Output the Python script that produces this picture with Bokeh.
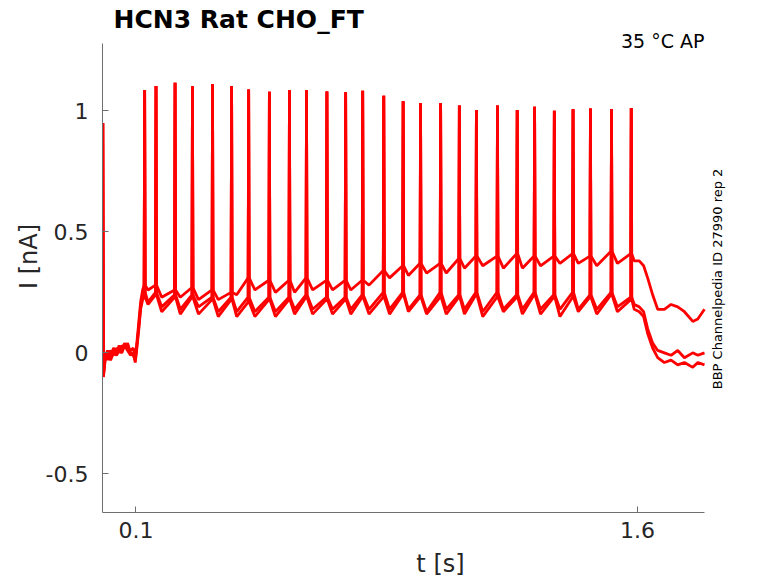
import numpy as np
from bokeh.plotting import figure
from bokeh.models import Range1d, FixedTicker, Label
from bokeh.embed import file_html
from bokeh.resources import INLINE

# ---------------- data ----------------
title_text = "HCN3  Rat  CHO_FT"
cond_text = "35 °C  AP"
side_text = "BBP Channelpedia ID 27990 rep 2"
x_label = "t [s]"
y_label = "I [nA]"

x_ticks = [0.1, 1.6]
x_tick_labels = ["0.1", "1.6"]
y_ticks = [-0.5, 0, 0.5, 1]
y_tick_labels = ["-0.5", "0", "0.5", "1"]

spike_t = [0.126, 0.160, 0.217, 0.269, 0.329, 0.386, 0.437, 0.499, 0.559,
           0.610, 0.671, 0.727, 0.778, 0.841, 0.899, 0.951, 1.011, 1.067,
           1.118, 1.181, 1.240, 1.292, 1.351, 1.407, 1.459, 1.522, 1.581]
spike_peak = [1.087, 1.103, 1.117, 1.102, 1.110, 1.103, 1.089, 1.079, 1.087,
              1.087, 1.080, 1.077, 1.083, 1.063, 1.040, 1.033, 1.033, 1.023,
              1.004, 1.023, 1.004, 1.017, 1.001, 1.007, 1.010, 1.008, 1.012]

pre_t = [0.0, 0.001, 0.003, 0.008, 0.015, 0.024, 0.033, 0.042, 0.050, 0.058,
         0.066, 0.075, 0.084, 0.092, 0.098, 0.102, 0.108, 0.114, 0.120]
pre_i1 = [0.0, 0.95, -0.10, -0.02, 0.01, -0.02, 0.02, 0.00, 0.03, 0.01,
          0.04, 0.02, 0.01, 0.02, -0.02, 0.03, 0.12, 0.21, 0.26]
pre_i2 = [0.0, 0.95, -0.08, 0.00, -0.03, 0.01, -0.01, 0.02, 0.00, 0.03,
          0.02, 0.04, 0.00, -0.01, -0.03, 0.02, 0.10, 0.19, 0.24]
pre_i3 = [0.0, 0.95, -0.09, -0.03, 0.00, -0.03, 0.00, -0.01, 0.01, 0.00,
          0.03, 0.01, -0.01, 0.00, -0.04, 0.01, 0.09, 0.18, 0.22]

cusp1 = [0.28, 0.28, 0.26, 0.27, 0.26, 0.25, 0.31, 0.30, 0.30, 0.31, 0.30,
         0.30, 0.30, 0.34, 0.36, 0.37, 0.37, 0.39, 0.40, 0.40, 0.41, 0.40,
         0.40, 0.41, 0.40, 0.42, 0.41]
trough1 = [0.26, 0.23, 0.23, 0.22, 0.22, 0.24, 0.26, 0.25, 0.25, 0.26, 0.26,
           0.26, 0.28, 0.31, 0.32, 0.33, 0.33, 0.35, 0.36, 0.35, 0.35, 0.36,
           0.37, 0.37, 0.36, 0.37]
cusp2 = [0.25, 0.25, 0.24, 0.24, 0.23, 0.23, 0.23, 0.23, 0.23, 0.24, 0.23,
         0.23, 0.24, 0.25, 0.25, 0.24, 0.25, 0.24, 0.25, 0.25, 0.24, 0.25,
         0.24, 0.25, 0.24, 0.25, 0.23]
trough2 = [0.21, 0.19, 0.18, 0.19, 0.17, 0.17, 0.17, 0.17, 0.18, 0.18, 0.18,
           0.18, 0.18, 0.18, 0.18, 0.17, 0.18, 0.18, 0.17, 0.18, 0.18, 0.18,
           0.18, 0.18, 0.18, 0.19]
cusp3 = [0.23, 0.24, 0.23, 0.23, 0.22, 0.22, 0.21, 0.22, 0.22, 0.23, 0.22,
         0.22, 0.23, 0.23, 0.24, 0.23, 0.23, 0.23, 0.24, 0.23, 0.23, 0.24,
         0.23, 0.23, 0.23, 0.24, 0.22]
trough3 = [0.20, 0.17, 0.16, 0.16, 0.15, 0.15, 0.15, 0.15, 0.16, 0.16, 0.16,
           0.16, 0.16, 0.16, 0.17, 0.16, 0.16, 0.16, 0.15, 0.17, 0.16, 0.16,
           0.15, 0.17, 0.16, 0.17]

post_t = [1.590, 1.605, 1.618, 1.630, 1.645, 1.660, 1.680, 1.700, 1.720,
          1.740, 1.765, 1.780, 1.800]
post_i1 = [0.38, 0.38, 0.36, 0.31, 0.24, 0.18, 0.18, 0.20, 0.19, 0.17, 0.13, 0.14, 0.18]
post_i2 = [0.20, 0.19, 0.17, 0.10, 0.04, 0.01, 0.00, -0.01, 0.01, -0.02, 0.00, -0.01, 0.00]
post_i3 = [0.18, 0.17, 0.15, 0.08, 0.02, -0.02, -0.04, -0.03, -0.05, -0.04, -0.06, -0.04, -0.05]

# visible extent of the axes (data units)
x_axis_span = (0.0, 1.80)
y_axis_span = (-0.660, 1.278)


def build_trace(pre_i, cusp, trough, post_i):
    xs = list(pre_t)
    ys = list(pre_i)
    n = len(spike_t)
    for k in range(n):
        tk = spike_t[k]
        xs += [tk - 0.0015, tk, tk + 0.0015]
        ys += [cusp[k], spike_peak[k], cusp[k]]
        if k < n - 1:
            xs.append(tk + 0.3 * (spike_t[k + 1] - tk))
            ys.append(trough[k])
    xs += post_t
    ys += post_i
    return xs, ys


traces = [build_trace(pre_i1, cusp1, trough1, post_i1),
          build_trace(pre_i2, cusp2, trough2, post_i2),
          build_trace(pre_i3, cusp3, trough3, post_i3)]

# ---------------- figure ----------------
# frame: x from px 102 to 778 (676 px), y from px 0 to 512 (512 px)
px_per_x = 334.44
px_per_y = 241.9
x_end = x_axis_span[0] + 676 / px_per_x
y_end = y_axis_span[0] + 512 / px_per_y

p = figure(width=778, height=583, output_backend="svg", toolbar_location=None,
           x_range=Range1d(x_axis_span[0], x_end),
           y_range=Range1d(y_axis_span[0], y_end),
           min_border_left=102, min_border_right=0, min_border_top=0,
           min_border_bottom=71)
p.background_fill_color = "white"
p.border_fill_color = "white"
p.outline_line_color = None
p.xgrid.visible = False
p.ygrid.visible = False

for xs, ys in traces:
    p.line(xs, ys, line_color="#ff0000", line_width=2.8)

axis_col = "#6e6e6e"
text_col = "#262626"
FONT = "DejaVu Sans"

for ax in (p.xaxis[0], p.yaxis[0]):
    ax.axis_line_color = axis_col
    ax.major_tick_line_color = axis_col
    ax.major_tick_in = 6
    ax.major_tick_out = 0
    ax.minor_tick_line_color = None
    ax.major_label_text_font = FONT
    ax.major_label_text_font_size = "22px"
    ax.major_label_text_color = text_col
    ax.axis_label_text_font = FONT
    ax.axis_label_text_font_size = "24px"
    ax.axis_label_text_font_style = "normal"
    ax.axis_label_text_color = text_col

p.xaxis.bounds = x_axis_span
p.yaxis.bounds = y_axis_span
p.xaxis.ticker = FixedTicker(ticks=x_ticks)
p.xaxis.major_label_overrides = {t: l for t, l in zip(x_ticks, x_tick_labels)}
p.xaxis.major_label_standoff = 9
p.xaxis.axis_label = x_label
p.xaxis.axis_label_standoff = 9

p.yaxis.ticker = FixedTicker(ticks=y_ticks)
p.yaxis.major_label_overrides = {t: l for t, l in zip(y_ticks, y_tick_labels)}
p.yaxis.major_label_standoff = 14
p.yaxis.axis_label = y_label
p.yaxis.axis_label_standoff = 0

# title and annotations (inside the extended frame)
p.add_layout(Label(x=0.033, y=1.378, text=title_text, text_align="left",
                   text_baseline="alphabetic", text_font=FONT,
                   text_font_size="25px", text_font_style="bold",
                   text_color="black"))
p.add_layout(Label(x=1.818, y=1.291, text=cond_text, text_align="right",
                   text_baseline="alphabetic", text_font=FONT,
                   text_font_size="19px", text_color="black"))
p.add_layout(Label(x=1.839, y=0.3055, text=side_text, angle=np.pi / 2,
                   text_align="center", text_baseline="middle", text_font=FONT,
                   text_font_size="13px", text_color="black"))

open("out.html", "w").write(file_html(p, INLINE))
